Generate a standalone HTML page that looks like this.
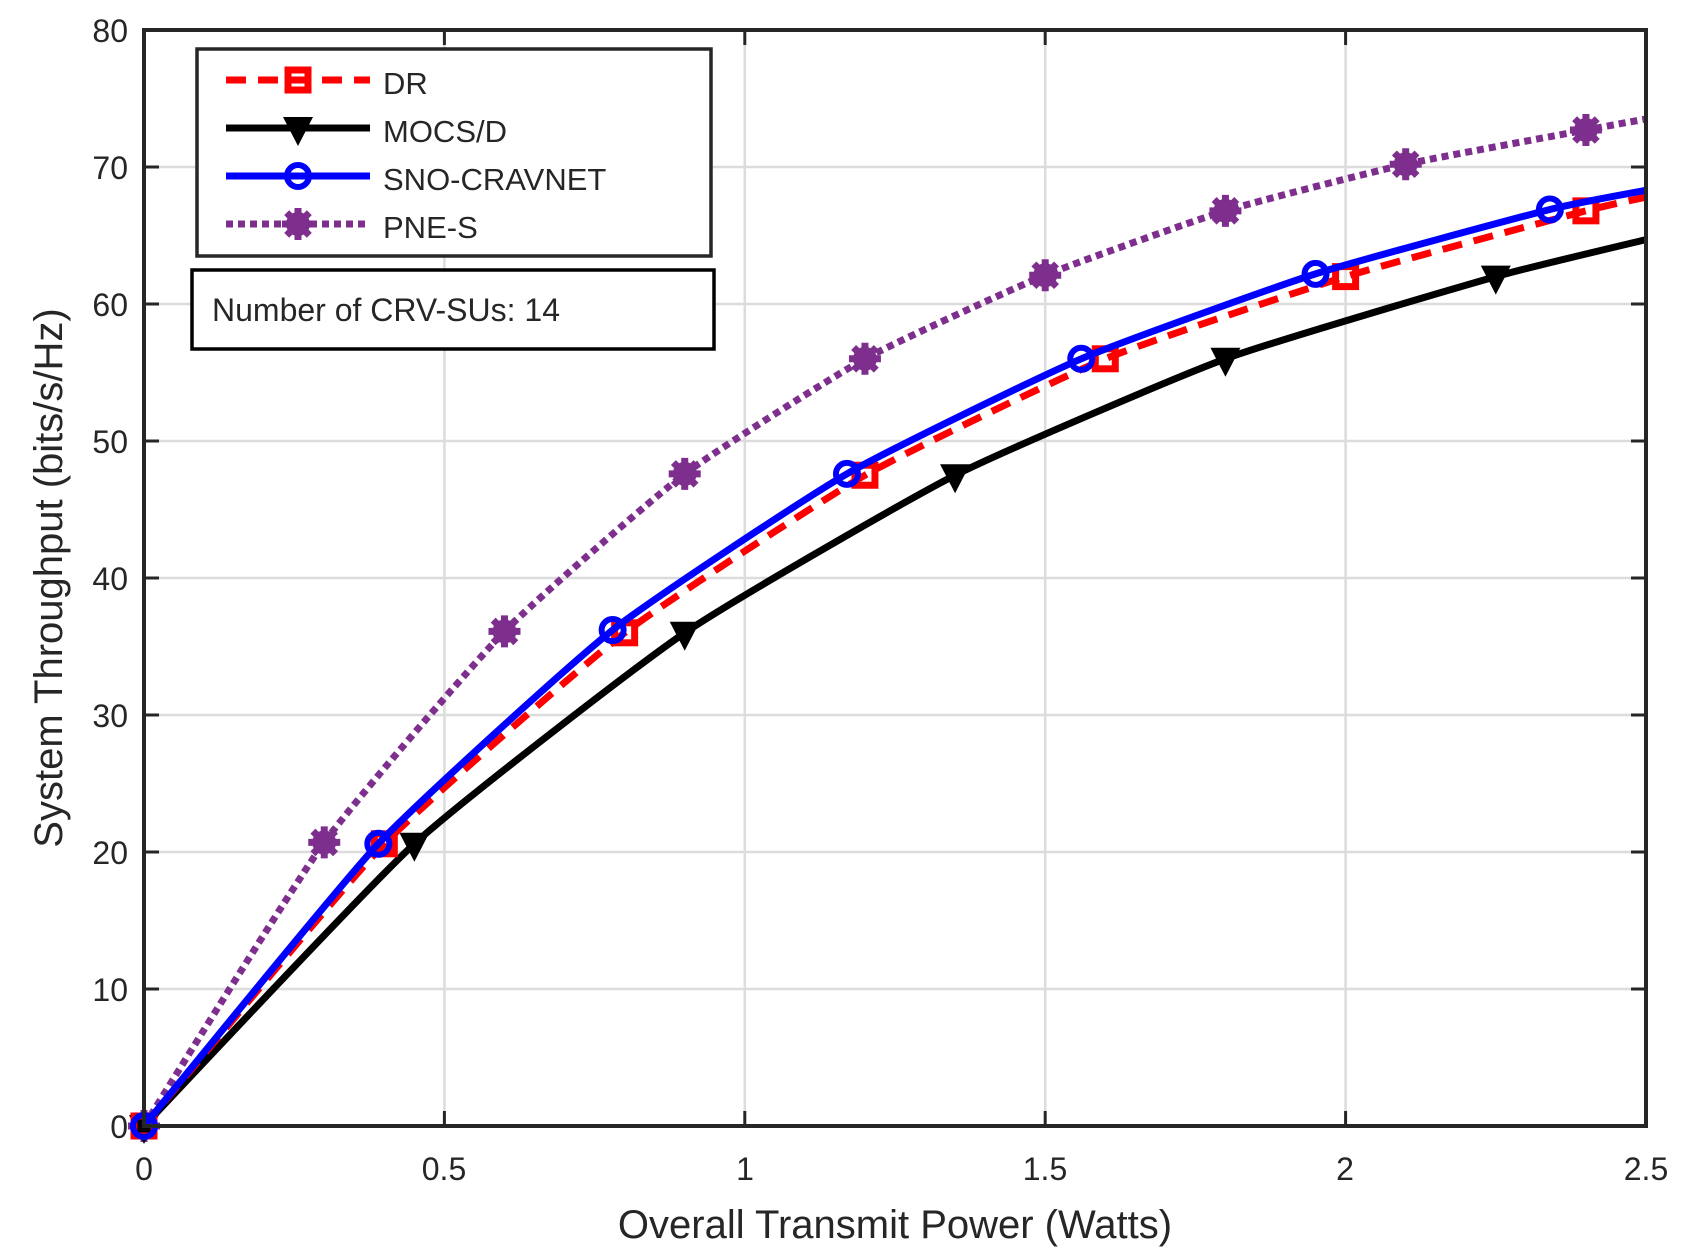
<!DOCTYPE html><html><head><style>body{margin:0;background:#fff}svg{display:block}text{font-family:"Liberation Sans",Arial,sans-serif;fill:#262626}</style></head><body>
<svg id="s" width="1696" height="1257" viewBox="0 0 1696 1257">
<g id="grid" stroke="#dcdcdc" stroke-width="2.5"></g>
<g id="data"></g>
<rect x="144" y="30" width="1502" height="1096" fill="none" stroke="#262626" stroke-width="4"/>
<g id="ticks" stroke="#262626" stroke-width="3"></g>
<g font-size="32" text-anchor="end">
<text x="128" y="1138">0</text><text x="128" y="1001">10</text><text x="128" y="864">20</text><text x="128" y="727">30</text><text x="128" y="590">40</text><text x="128" y="453">50</text><text x="128" y="316">60</text><text x="128" y="179">70</text><text x="128" y="42">80</text></g>
<g font-size="32" text-anchor="middle">
<text x="144" y="1180">0</text><text x="444" y="1180">0.5</text><text x="745" y="1180">1</text><text x="1045" y="1180">1.5</text><text x="1345" y="1180">2</text><text x="1646" y="1180">2.5</text></g>
<text x="895" y="1238" font-size="40" text-anchor="middle">Overall Transmit Power (Watts)</text>
<text transform="translate(62,578) rotate(-90)" font-size="40" text-anchor="middle">System Throughput (bits/s/Hz)</text>
<rect x="197" y="49" width="514" height="207" fill="#fff" stroke="#262626" stroke-width="3.5"/>
<g id="leg"></g>
<g font-size="31" fill="#000"><text x="383" y="94">DR</text><text x="383" y="142">MOCS/D</text><text x="383" y="190">SNO-CRAVNET</text><text x="383" y="238">PNE-S</text></g>
<rect x="192" y="270" width="522" height="79" fill="#fff" stroke="#000" stroke-width="3.5"/>
<text x="212" y="321" font-size="32" fill="#000">Number of CRV-SUs: 14</text>
</svg>
<script>
const X=v=>144+v*600.8,Y=v=>1126-v*13.7,NS="http://www.w3.org/2000/svg";
function el(p,t,a){const e=document.createElementNS(NS,t);for(const k in a)e.setAttribute(k,a[k]);document.getElementById(p).appendChild(e);return e}
for(let i=1;i<5;i++){el('grid','line',{x1:X(i/2),x2:X(i/2),y1:30,y2:1126});}
for(let i=1;i<8;i++){el('grid','line',{x1:144,x2:1646,y1:Y(i*10),y2:Y(i*10)});}
for(let i=1;i<5;i++){el('ticks','line',{x1:X(i/2),x2:X(i/2),y1:1126,y2:1111});el('ticks','line',{x1:X(i/2),x2:X(i/2),y1:30,y2:45});}
for(let i=1;i<8;i++){el('ticks','line',{x1:144,x2:159,y1:Y(i*10),y2:Y(i*10)});el('ticks','line',{x1:1646,x2:1631,y1:Y(i*10),y2:Y(i*10)});}
const S={
DR:{c:'#ff0000',pts:[[0,0],[0.4,20.6],[0.8,36],[1.2,47.5],[1.6,56],[2.0,62],[2.4,66.8],[2.5,67.8]],m:'sq',d:'20 12'},
MO:{c:'#000',pts:[[0,0],[0.45,20.6],[0.9,36],[1.35,47.5],[1.8,56],[2.25,62],[2.5,64.7]],m:'tri',d:''},
SN:{c:'#0000ff',pts:[[0,0],[0.39,20.6],[0.78,36.2],[1.17,47.6],[1.56,56],[1.95,62.2],[2.34,66.9],[2.5,68.3]],m:'ci',d:''},
PN:{c:'#7e2f8e',pts:[[0,0],[0.3,20.7],[0.6,36.1],[0.9,47.6],[1.2,56],[1.5,62.1],[1.8,66.8],[2.1,70.2],[2.4,72.7],[2.5,73.5]],m:'st',d:'7 5'}};
function marker(p,m,c,x,y){
 if(m=='sq')el(p,'rect',{x:x-10,y:y-10,width:20,height:20,fill:'none',stroke:c,'stroke-width':7});
 if(m=='tri')el(p,'path',{d:`M${x-15} ${y-11}L${x+15} ${y-11}L${x} ${y+18}Z`,fill:c});
 if(m=='ci')el(p,'circle',{cx:x,cy:y,r:11,fill:'none',stroke:c,'stroke-width':6});
 if(m=='st'){el(p,'circle',{cx:x,cy:y,r:12,fill:c});for(let k=0;k<4;k++){const a=k*Math.PI/4;el(p,'line',{x1:x-16*Math.cos(a),y1:y-16*Math.sin(a),x2:x+16*Math.cos(a),y2:y+16*Math.sin(a),stroke:c,'stroke-width':7});}}
}
for(const k of ['PN','MO','DR','SN']){const s=S[k];
 const P=s.pts.map(([a,b])=>[X(a),Y(b)]);let d=`M${P[0][0]} ${P[0][1]}`;
 for(let i=0;i<P.length-1;i++){const p0=P[Math.max(0,i-1)],p1=P[i],p2=P[i+1],p3=P[Math.min(P.length-1,i+2)];
  d+=`C${p1[0]+(p2[0]-p0[0])/12} ${p1[1]+(p2[1]-p0[1])/12} ${p2[0]-(p3[0]-p1[0])/12} ${p2[1]-(p3[1]-p1[1])/12} ${p2[0]} ${p2[1]}`;}
 const a={d,fill:'none',stroke:s.c,'stroke-width':7};if(s.d)a['stroke-dasharray']=s.d;el('data','path',a);
 s.pts.forEach(([a,b],i)=>{if(i<s.pts.length-1||a<2.5)marker('data',s.m,s.c,X(a),Y(b))});
}
const L=[['DR',80],['MO',128],['SN',176],['PN',224]];
for(const [k,y] of L){const s=S[k];const a={x1:226,x2:370,y1:y,y2:y,stroke:s.c,'stroke-width':7};if(s.d)a['stroke-dasharray']=s.d;el('leg','line',a);marker('leg',s.m,s.c,298,y);}
</script></body></html>
